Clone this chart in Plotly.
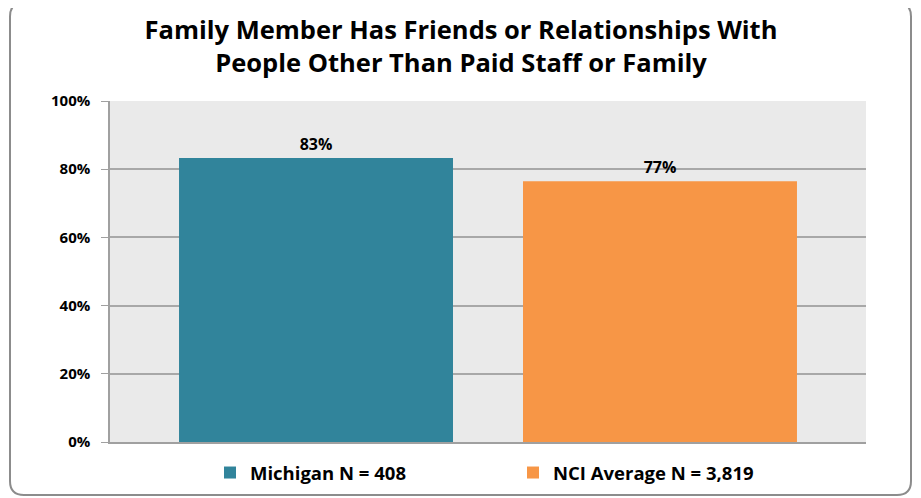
import plotly.graph_objects as go

series_names = ["Michigan N = 408", "NCI Average N = 3,819"]
values = [83.3, 76.5]
labels = ["83%", "77%"]
colors = ["#31849B", "#F79646"]
tick_vals = [0, 20, 40, 60, 80, 100]
tick_text = ["0%", "20%", "40%", "60%", "80%", "100%"]
title_lines = ["Family Member Has Friends or Relationships With",
               "People Other Than Paid Staff or Family"]

OFF = 8  # browser body margin
W, H = 921 - OFF, 498 - OFF
# plot area in page pixels
PL, PR, PT, PB = 110, 866, 101, 442
L, T = PL - OFF, PT - OFF
R, B = 921 - PR, 498 - PB
pw, ph = PR - PL, PB - PT

FONT = "'Open Sans', Lato, sans-serif"

fig = go.Figure()
for name, v, lab, c in zip(series_names, values, labels, colors):
    fig.add_trace(go.Bar(
        x=[""], y=[v], name=f"<b>{name}</b>",
        marker=dict(color=c, line=dict(width=0)),
        text=[f"<b>{lab}</b>"], textposition="outside",
        textfont=dict(size=16, color="#000000", family=FONT),
        cliponaxis=False,
    ))

def P(x, y):
    a = (x - PL) / pw
    b = (PB - y) / ph
    return f"{a:.5f},{b:.5f}"

x0, y0, x1, y1, r = 10, 2.5, 911, 495, 14
path = (f"M {P(x0 + r, y0)} L {P(x1 - r, y0)} Q {P(x1, y0)} {P(x1, y0 + r)} "
        f"L {P(x1, y1 - r)} Q {P(x1, y1)} {P(x1 - r, y1)} "
        f"L {P(x0 + r, y1)} Q {P(x0, y1)} {P(x0, y1 - r)} "
        f"L {P(x0, y0 + r)} Q {P(x0, y0)} {P(x0 + r, y0)} Z")

fig.update_layout(
    width=W, height=H,
    margin=dict(l=L, r=R, t=T, b=B, autoexpand=False),
    paper_bgcolor="white", plot_bgcolor="#EAEAEA",
    barmode="group", bargap=0.09, bargroupgap=0.2035,
    title=dict(text="<b>" + "<br>".join(title_lines) + "</b>",
               x=(461 - OFF) / W, xref="container", xanchor="center",
               y=1 - (39 - OFF) / H, yref="container", yanchor="middle",
               font=dict(family=FONT, size=25.5, color="#000000")),
    font=dict(family=FONT, color="#000000"),
    showlegend=True,
    legend=dict(orientation="h", x=(210 - OFF) / W, xanchor="left", xref="container",
                y=(H - (473 - OFF)) / H, yref="container", yanchor="middle",
                font=dict(size=18.5, family=FONT, color="#000000"),
                itemwidth=30, entrywidthmode="pixels", entrywidth=258,
                traceorder="normal"),
    xaxis=dict(showticklabels=False, showline=True, linecolor="#A0A0A0",
               linewidth=1.5, ticks="", showgrid=False),
    yaxis=dict(range=[0, 100], tickvals=tick_vals,
               ticktext=[f"<b>{t}</b>" for t in tick_text],
               tickfont=dict(size=15, family=FONT, color="#000000"),
               ticks="outside", ticklen=7, tickcolor="#A0A0A0",
               ticklabelstandoff=8,
               showline=True, linecolor="#A0A0A0", linewidth=1.5,
               showgrid=True, gridcolor="#A8A8A8", gridwidth=1.5,
               zeroline=False),
    shapes=[dict(type="path", path=path, xref="paper", yref="paper",
                 line=dict(color="#8C8C8C", width=2), fillcolor="rgba(0,0,0,0)",
                 layer="above")],
)

fig.write_html("out.html")
